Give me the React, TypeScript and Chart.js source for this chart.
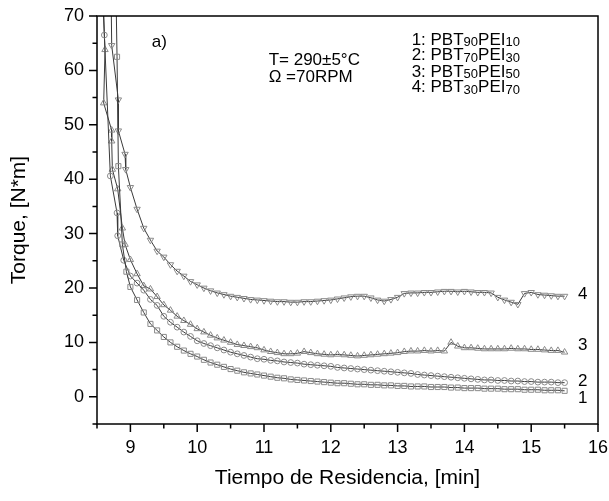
import React, { useEffect, useRef } from "react";
import { Chart, registerables } from "chart.js";

Chart.register(...registerables);

const FONT = "'Liberation Sans', Arial, sans-serif";

// shared sampling times for the steady part of all curves (min)
const tailTime = [
  9.0, 9.1, 9.2, 9.3, 9.4, 9.5, 9.6, 9.7, 9.8, 9.9,
  10.0, 10.1, 10.2, 10.3, 10.4, 10.5, 10.6, 10.7, 10.8, 10.9,
  11.0, 11.1, 11.2, 11.3, 11.4, 11.5, 11.6, 11.7, 11.8, 11.9,
  12.0, 12.1, 12.2, 12.3, 12.4, 12.5, 12.6, 12.7, 12.8, 12.9,
  13.0, 13.1, 13.2, 13.3, 13.4, 13.5, 13.6, 13.7, 13.8, 13.9,
  14.0, 14.1, 14.2, 14.3, 14.4, 14.5, 14.6, 14.7, 14.8, 14.9,
  15.0, 15.1, 15.2, 15.3, 15.4, 15.5,
];

// 1: PBT90PEI10 (squares)
const s1EarlyX = [8.77, 8.8, 8.82, 8.88, 8.94];
const s1EarlyY = [85, 62.5, 42.4, 28, 23];
const s1Tail = [
  20.2, 17.8, 15.5, 13.4, 12.2, 11.0, 10.0, 9.2, 8.5, 7.9,
  7.4, 6.8, 6.3, 5.9, 5.5, 5.1, 4.8, 4.5, 4.3, 4.1,
  3.9, 3.7, 3.5, 3.4, 3.2, 3.1, 3.0, 2.9, 2.8, 2.7,
  2.6, 2.5, 2.5, 2.4, 2.3, 2.3, 2.2, 2.2, 2.1, 2.1,
  2.0, 2.0, 1.9, 1.9, 1.9, 1.8, 1.8, 1.8, 1.7, 1.7,
  1.6, 1.6, 1.6, 1.5, 1.5, 1.5, 1.4, 1.4, 1.4, 1.3,
  1.3, 1.3, 1.2, 1.2, 1.2, 1.1,
];

// 2: PBT70PEI30 (circles)
const s2EarlyX = [8.57, 8.61, 8.7, 8.8, 8.81, 8.9];
const s2EarlyY = [85, 66.5, 40.6, 33.8, 29.6, 25.1];
const s2Tail = [
  22.2, 20.9, 19.6, 17.9, 16.8, 14.8, 13.7, 12.8, 11.9, 11.1,
  10.3, 9.8, 9.4, 9.0, 8.6, 8.2, 7.9, 7.6, 7.3, 7.0,
  6.9, 6.7, 6.6, 6.4, 6.3, 6.2, 6.0, 5.9, 5.8, 5.7,
  5.6, 5.4, 5.3, 5.2, 5.1, 5.0, 4.9, 4.8, 4.7, 4.6,
  4.5, 4.4, 4.3, 4.1, 4.0, 3.9, 3.8, 3.7, 3.6, 3.5,
  3.4, 3.3, 3.2, 3.1, 3.1, 3.0, 3.0, 2.9, 2.9, 2.8,
  2.8, 2.7, 2.7, 2.7, 2.6, 2.6,
];

// 3: PBT50PEI50 (up triangles)
const s3EarlyX = [8.54, 8.62, 8.6, 8.72, 8.72, 8.73, 8.81, 8.88, 8.92];
const s3EarlyY = [85, 63.8, 54.0, 49.0, 47.0, 41.8, 38.2, 31.0, 28.0];
const s3Tail = [
  25.2, 22.6, 20.4, 19.8, 18.4, 16.9, 15.9, 14.8, 14.0, 13.3,
  12.5, 11.9, 11.3, 10.8, 10.4, 10.0, 9.6, 9.4, 9.2, 9.0,
  8.6, 8.3, 8.1, 7.9, 7.9, 8.0, 8.3, 8.1, 7.9, 7.8,
  7.7, 7.8, 7.7, 7.6, 7.5, 7.6, 7.7, 7.8, 7.9, 8.0,
  8.1, 8.3, 8.4, 8.4, 8.5, 8.4, 8.5, 8.4, 10.0, 9.3,
  9.0, 9.0, 8.9, 8.8, 8.8, 8.8, 8.8, 8.9, 8.8, 8.8,
  8.7, 8.7, 8.6, 8.5, 8.5, 8.2,
];

// 4: PBT30PEI70 (down triangles)
const s4EarlyX = [8.7, 8.72, 8.82, 8.82, 8.92, 8.93];
const s4EarlyY = [85, 64.6, 54.6, 48.9, 44.6, 41.8];
const s4Tail = [
  38.5, 34.5, 31.0, 28.8, 26.8, 25.7, 24.3, 23.1, 22.2, 21.2,
  20.6, 20.0, 19.5, 19.1, 18.8, 18.5, 18.3, 18.1, 17.9, 17.8,
  17.7, 17.6, 17.5, 17.5, 17.4, 17.4, 17.5, 17.5, 17.6, 17.7,
  17.8, 18.0, 18.2, 18.4, 18.5, 18.5, 18.2, 17.8, 17.6, 17.9,
  18.3, 19.0, 19.1, 19.1, 19.2, 19.2, 19.3, 19.4, 19.4, 19.3,
  19.4, 19.3, 19.2, 19.2, 19.1, 18.3, 17.8, 17.4, 17.0, 19.0,
  19.2, 18.8, 18.7, 18.6, 18.5, 18.5,
];

const xMajorTicks = [9, 10, 11, 12, 13, 14, 15, 16];
const xMinorTicks = [8.5, 9.5, 10.5, 11.5, 12.5, 13.5, 14.5, 15.5];
const yMajorTicks = [0, 10, 20, 30, 40, 50, 60, 70];
const yMinorTicks = [-5, 5, 15, 25, 35, 45, 55, 65];

const legendLines = [
  ["1: PBT", "90", "PEI", "10"],
  ["2: PBT", "70", "PEI", "30"],
  ["3: PBT", "50", "PEI", "50"],
  ["4: PBT", "30", "PEI", "70"],
];
const curveLabels = ["1", "2", "3", "4"];

function build(ex: number[], ey: number[], tail: number[]) {
  const pts = ex.map((x, i) => ({ x, y: ey[i] }));
  return pts.concat(tail.map((y, i) => ({ x: tailTime[i], y })));
}

const framePlugin = {
  id: "frame",
  afterDraw(chart: any) {
    const { ctx, chartArea, scales } = chart;
    const { left, right, top, bottom } = chartArea;
    const xs = scales.x;
    const ys = scales.y;
    ctx.save();
    ctx.strokeStyle = "#000";
    ctx.lineWidth = 1.5;
    ctx.strokeRect(left, top, right - left, bottom - top);
    ctx.beginPath();
    xMajorTicks.forEach((v) => {
      const p = xs.getPixelForValue(v);
      ctx.moveTo(p, bottom);
      ctx.lineTo(p, bottom + 8);
    });
    xMinorTicks.forEach((v) => {
      const p = xs.getPixelForValue(v);
      ctx.moveTo(p, bottom);
      ctx.lineTo(p, bottom + 4.5);
    });
    yMajorTicks.forEach((v) => {
      const p = ys.getPixelForValue(v);
      ctx.moveTo(left, p);
      ctx.lineTo(left - 8, p);
    });
    yMinorTicks.forEach((v) => {
      const p = ys.getPixelForValue(v);
      ctx.moveTo(left, p);
      ctx.lineTo(left - 4.5, p);
    });
    ctx.stroke();

    ctx.fillStyle = "#000";
    ctx.textBaseline = "middle";
    ctx.textAlign = "left";
    ctx.font = `17px ${FONT}`;
    ctx.fillText("a)", xs.getPixelForValue(9.32), ys.getPixelForValue(65.1));
    ctx.fillText("T= 290\u00B15\u00B0C", xs.getPixelForValue(11.07), ys.getPixelForValue(61.8));
    ctx.fillText("\u03A9 =70RPM", xs.getPixelForValue(11.07), ys.getPixelForValue(58.8));

    const legendY = [65.6, 62.7, 59.7, 56.8];
    legendLines.forEach((parts, i) => {
      let px = xs.getPixelForValue(13.21);
      const py = ys.getPixelForValue(legendY[i]);
      parts.forEach((t, j) => {
        const sub = j % 2 === 1;
        ctx.font = sub ? `13px ${FONT}` : `17px ${FONT}`;
        ctx.fillText(t, px, py + (sub ? 2.5 : 0));
        px += ctx.measureText(t).width;
      });
    });

    ctx.font = `17px ${FONT}`;
    ctx.textAlign = "center";
    const labelY = [-0.2, 2.8, 9.4, 18.9];
    curveLabels.forEach((t, i) => {
      ctx.fillText(t, xs.getPixelForValue(15.77), ys.getPixelForValue(labelY[i]));
    });
    ctx.restore();
  },
};

function zeroPad(s: any) {
  s.paddingLeft = 0;
  s.paddingRight = 0;
  s.paddingTop = 0;
  s.paddingBottom = 0;
}

export default function App() {
  const ref = useRef<HTMLCanvasElement | null>(null);
  useEffect(() => {
    if (!ref.current) return;
    const lineColor = "#3a3a3a";
    const markColor = "#8a8a8a";
    const common = {
      showLine: true,
      borderColor: lineColor,
      borderWidth: 1,
      pointBorderColor: markColor,
      pointBackgroundColor: "rgba(255,255,255,0)",
      pointBorderWidth: 1,
      tension: 0,
    };
    const chart = new Chart(ref.current, {
      type: "scatter",
      data: {
        datasets: [
          { ...common, label: "1", data: build(s1EarlyX, s1EarlyY, s1Tail), pointStyle: "rect", pointRadius: 3.6 },
          { ...common, label: "2", data: build(s2EarlyX, s2EarlyY, s2Tail), pointStyle: "circle", pointRadius: 2.9 },
          { ...common, label: "3", data: build(s3EarlyX, s3EarlyY, s3Tail), pointStyle: "triangle", pointRadius: 3.7 },
          { ...common, label: "4", data: build(s4EarlyX, s4EarlyY, s4Tail), pointStyle: "triangle", rotation: 180, pointRadius: 3.7 },
        ],
      },
      options: {
        animation: false,
        responsive: false,
        maintainAspectRatio: false,
        layout: { padding: { top: 16, right: 11, left: 0, bottom: 0 } },
        plugins: { legend: { display: false }, tooltip: { enabled: false } },
        scales: {
          x: {
            type: "linear",
            min: 8.5,
            max: 16,
            afterBuildTicks: (s: any) => {
              s.ticks = xMajorTicks.map((v) => ({ value: v }));
            },
            afterFit: (s: any) => {
              s.height = 77;
              zeroPad(s);
            },
            grid: { display: false, drawTicks: false },
            border: { display: false },
            ticks: { padding: 13, color: "#000", font: { family: FONT, size: 18 }, maxRotation: 0 },
            title: {
              display: true,
              text: "Tiempo de Residencia, [min]",
              color: "#000",
              font: { family: FONT, size: 21 },
              padding: { top: 0, bottom: 10 },
            },
          },
          y: {
            type: "linear",
            min: -5,
            max: 70,
            afterBuildTicks: (s: any) => {
              s.ticks = yMajorTicks.map((v) => ({ value: v }));
            },
            afterFit: (s: any) => {
              s.width = 97;
              zeroPad(s);
            },
            grid: { display: false, drawTicks: false },
            border: { display: false },
            ticks: { padding: 13, color: "#000", font: { family: FONT, size: 18 } },
            title: {
              display: true,
              text: "Torque, [N*m]",
              color: "#000",
              font: { family: FONT, size: 21 },
              padding: { top: 7, bottom: 0 },
            },
          },
        },
      },
      plugins: [framePlugin],
    } as any);
    return () => chart.destroy();
  }, []);
  return (
    <div style={{ position: "absolute", left: 0, top: 0, width: 609, height: 501, background: "#fff" }}>
      <canvas ref={ref} width={609} height={501} style={{ display: "block" }} />
    </div>
  );
}
